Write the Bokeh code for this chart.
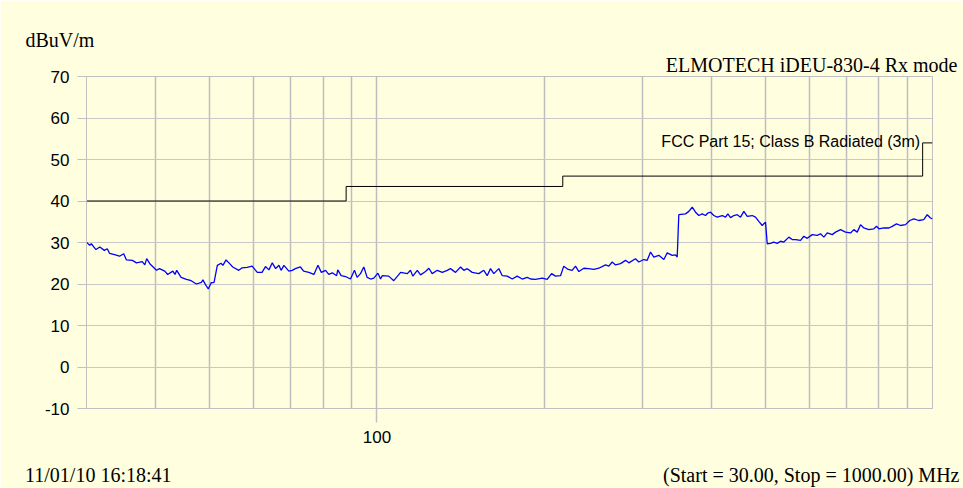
from bokeh.plotting import figure
from bokeh.models import FixedTicker, Label, Range1d, Title, LinearAxis
from bokeh.embed import file_html
from bokeh.resources import INLINE

# ---- data ----
trace_freq_mhz = [
    30.0, 30.4, 30.6, 31.2, 31.7, 32.3, 32.7, 33.0, 33.7, 34.4,
    35.0, 35.4, 36.3, 36.9, 37.8, 38.2, 38.5, 39.0, 40.1, 40.6,
    41.5, 42.0, 42.9, 43.3, 43.6, 44.4, 45.4, 46.3, 47.3, 48.3,
    48.6, 49.1, 49.7, 50.3, 50.9, 51.6, 52.4, 52.8, 53.5, 54.3, 55.0,
    56.4, 57.2, 58.4, 59.6, 60.9, 62.1, 63.0, 63.9, 64.8, 65.7, 66.6,
    67.2, 68.0, 69.4, 70.4, 71.3, 72.8, 73.8, 75.4, 77.0, 78.3,
    79.4, 80.8, 81.9, 83.1, 84.6, 85.0, 86.2, 87.8, 89.6, 91.1,
    92.1, 93.4, 94.7, 96.0, 97.4, 98.7, 100.4, 101.5,
    102.2, 105.0, 107.2, 110.3, 113.4, 114.9, 116.0, 118.2, 119.8, 122.3,
    124.0, 125.7, 128.4, 131.1, 133.8, 135.6, 138.5, 141.4, 143.3, 145.4,
    148.4, 152.5, 155.7, 157.9, 160.1, 162.3, 165.7, 168.1, 171.6, 175.2,
    178.8, 182.6, 186.4, 189.0, 192.9, 198.4, 202.5, 206.2,
    209.6, 214.0, 216.9, 220.9, 224.6, 227.7, 230.9, 235.7, 240.6, 245.7,
    250.8, 257.9, 261.4, 265.1, 268.8, 274.4, 280.2, 284.0, 292.0, 296.0,
    302.2, 306.5, 310.8, 315.0, 321.6, 328.4, 333.0, 340.0, 344.7, 347.1,
    349.4, 359.3, 364.2, 369.4, 374.5, 379.6, 385.0, 390.3, 394.1, 398.5,
    404.0, 409.7, 418.3, 424.1, 428.1, 432.9, 438.9, 445.1, 451.3, 457.5,
    464.0, 473.7, 480.2, 486.8, 493.7, 497.0, 500.5,
    504.1, 511.0, 518.1, 525.4, 532.7, 540.0, 551.3, 559.1, 566.8, 578.7,
    586.7, 595.0, 607.4, 620.2, 628.7, 637.4, 646.4, 660.0, 669.0, 683.1,
    697.4, 712.0, 721.8, 732.0, 742.1, 752.3, 768.1, 784.2, 793.0, 800.6,
    817.3, 834.5, 846.3, 861.5, 875.8, 894.2, 910.2, 925.5, 944.8, 964.6,
    978.3, 991.8, 1000.0,
]
trace_dbuv_m = [
    30.1, 29.3, 29.7, 28.3, 28.9, 28.1, 28.5, 27.4, 27.1, 26.7,
    27.3, 25.8, 25.7, 25.1, 25.4, 24.6, 26.1, 24.9, 23.3, 23.7,
    23.1, 22.3, 23.1, 22.3, 23.3, 21.6, 21.1, 20.8, 20.0, 20.4,
    21.0, 19.9, 18.8, 20.3, 20.4, 24.5, 25.0, 24.5, 25.8, 24.9, 24.1,
    23.3, 23.9, 24.0, 24.3, 22.8, 22.8, 24.2, 23.4, 25.1, 23.7, 24.5,
    23.3, 24.5, 23.1, 23.3, 23.7, 24.1, 23.1, 22.8, 22.3, 24.5,
    22.8, 23.3, 22.3, 22.7, 22.0, 23.4, 22.0, 21.8, 21.2, 23.3,
    21.6, 22.5, 24.1, 21.6, 21.2, 21.4, 22.6, 21.2,
    22.0, 21.9, 20.8, 22.8, 22.5, 23.3, 21.9, 23.3, 22.2, 23.0,
    23.8, 22.5, 23.3, 22.8, 23.3, 23.7, 22.8, 24.1, 23.3, 23.7,
    22.8, 22.5, 23.3, 22.0, 23.7, 22.5, 23.7, 22.0, 21.9, 21.2,
    21.9, 21.2, 21.6, 21.2, 21.1, 21.4, 21.1, 22.5,
    21.9, 22.0, 24.3, 23.5, 23.3, 24.3, 23.0, 23.8, 23.7, 23.5,
    23.8, 24.6, 24.3, 25.3, 24.6, 24.9, 25.7, 25.1, 26.1, 25.3,
    25.9, 25.7, 27.7, 26.5, 26.9, 25.9, 27.5, 26.9, 27.0, 26.5,
    36.7, 36.9, 37.5, 38.5, 37.3, 36.5, 36.9, 36.5, 37.1, 37.3,
    36.5, 36.1, 36.5, 36.1, 36.9, 36.0, 36.5, 36.7, 36.1, 37.5,
    36.3, 36.5, 36.1, 35.1, 34.1, 34.5, 34.9,
    29.7, 29.8, 30.1, 29.8, 30.3, 30.1, 31.3, 30.7, 30.7, 30.5,
    31.5, 31.0, 31.9, 31.7, 32.1, 31.3, 32.3, 31.9, 32.5, 33.1,
    32.5, 32.3, 33.1, 32.5, 34.3, 33.5, 33.1, 33.3, 33.9, 33.3,
    33.5, 33.5, 33.9, 34.5, 34.1, 34.3, 35.3, 35.7, 35.3, 35.5,
    36.7, 35.9, 35.7,
]

limit_start_mhz = [30, 88, 216, 960]
limit_dbuv_m = [40, 43.5, 46, 54]
limit_stop_mhz = 1000

y_ticks = [-10, 0, 10, 20, 30, 40, 50, 60, 70]
x_label_ticks = [100]
x_grid_ticks = [40, 50, 60, 70, 80, 90, 100, 200, 300, 400, 500, 600, 700, 800, 900]

title_text = "ELMOTECH iDEU-830-4 Rx mode"
unit_text = "dBuV/m"
limit_name = "FCC Part 15; Class B Radiated (3m)"
date_text = "11/01/10 16:18:41"
span_text = "(Start = 30.00, Stop = 1000.00) MHz"
footer_pos_mhz = [31.5, 605.0]  # centres of the two footer texts

BG = "#FFFFE0"
GRID = "#C0C0C0"

p = figure(width=963, height=488, x_axis_type="log",
           x_range=Range1d(30, 1000), y_range=Range1d(-10, 70),
           output_backend="svg", toolbar_location=None, tools="",
           min_border_left=86, min_border_right=31,
           min_border_top=76, min_border_bottom=80)
p.background_fill_color = BG
p.border_fill_color = BG
p.outline_line_color = GRID
p.outline_line_width = 1

# y axis
p.yaxis.ticker = FixedTicker(ticks=y_ticks, minor_ticks=[])
p.yaxis.major_label_overrides = {-10: "-10"}
p.yaxis.major_tick_out = 9
p.yaxis.major_tick_in = 0
p.yaxis.major_tick_line_color = GRID
p.yaxis.axis_line_color = GRID
p.yaxis.major_label_text_font = "Liberation Sans"
p.yaxis.major_label_text_font_size = "17px"
p.yaxis.major_label_text_color = "black"
p.yaxis.major_label_standoff = 8

# x axis
p.xaxis.ticker = FixedTicker(ticks=x_label_ticks, minor_ticks=[])
p.xaxis.major_label_overrides = {100: "100"}
p.xaxis.major_tick_out = 14
p.xaxis.major_tick_in = 0
p.xaxis.major_tick_line_color = GRID
p.xaxis.major_tick_line_width = 1.5
p.xaxis.axis_line_color = GRID
p.xaxis.major_label_text_font = "Liberation Sans"
p.xaxis.major_label_text_font_size = "17px"
p.xaxis.major_label_text_color = "black"
p.xaxis.major_label_standoff = 8

# footer texts carried by an extra, line-less axis below
foot = LinearAxis(ticker=FixedTicker(ticks=footer_pos_mhz, minor_ticks=[]),
                  major_label_overrides={footer_pos_mhz[0]: date_text,
                                         footer_pos_mhz[1]: span_text})
foot.axis_line_color = None
foot.major_tick_line_color = None
foot.major_tick_out = 0
foot.major_tick_in = 0
foot.major_label_standoff = 18
foot.major_label_text_font = "Liberation Serif"
foot.major_label_text_font_size = "20px"
foot.major_label_text_color = "black"
p.add_layout(foot, "below")

# grids
p.xgrid.ticker = FixedTicker(ticks=x_grid_ticks, minor_ticks=[])
p.xgrid.grid_line_color = "#BDBDBD"
p.xgrid.grid_line_width = 1.5
p.ygrid.grid_line_color = "#C8C8C8"
p.ygrid.grid_line_width = 1

# limit line
lim_x = limit_start_mhz + [limit_stop_mhz]
lim_y = limit_dbuv_m + [limit_dbuv_m[-1]]
p.step(lim_x, lim_y, mode="after", line_color="black", line_width=1)

# measured trace
p.line(trace_freq_mhz, trace_dbuv_m, line_color="#0000FF", line_width=1.3)

# texts
p.add_layout(Label(x=950, y=limit_dbuv_m[-1], y_offset=1.5, text=limit_name,
                   text_align="right", text_baseline="alphabetic",
                   text_font="Liberation Sans", text_font_size="16px",
                   text_color="black"))
p.add_layout(Title(text=title_text, align="right", offset=-25, standoff=2,
                   text_font="Liberation Serif", text_font_size="20px",
                   text_font_style="normal", text_color="black"), "above")
p.add_layout(Title(text=unit_text, align="left", offset=-61, standoff=0,
                   text_font="Liberation Serif", text_font_size="20px",
                   text_font_style="normal", text_color="black"), "above")

open("out.html", "w").write(file_html(p, INLINE))
